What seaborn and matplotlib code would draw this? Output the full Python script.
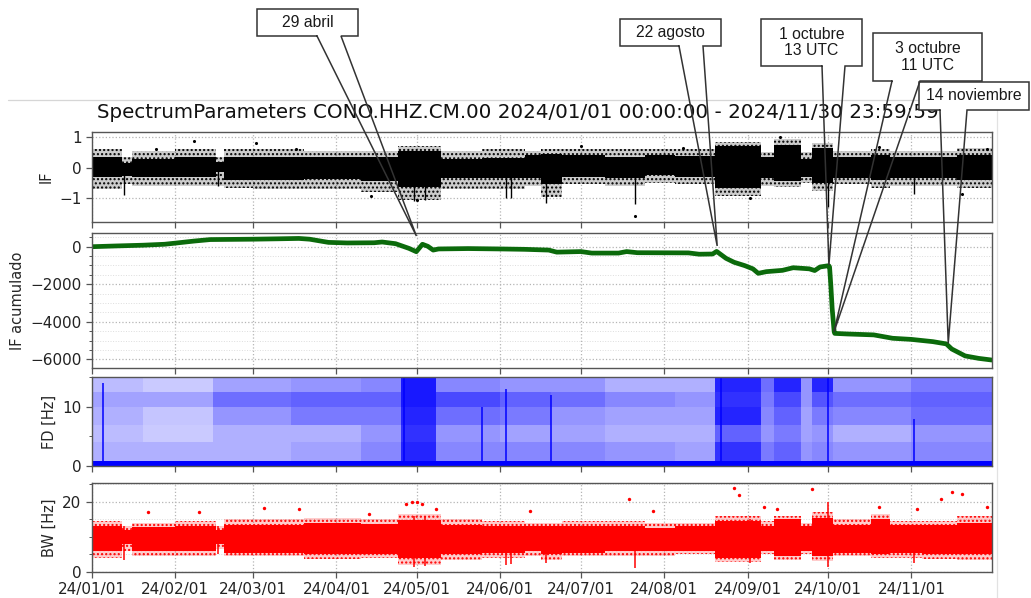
import numpy as np
import pandas as pd
import matplotlib
matplotlib.use("Agg")
import matplotlib.pyplot as plt
import matplotlib.dates as mdates
from matplotlib.ticker import MultipleLocator
from matplotlib.colors import LinearSegmentedColormap
from matplotlib.lines import Line2D
from matplotlib.patches import Rectangle
import seaborn as sns

# ------------------------------------------------------------------ data
title_text = "SpectrumParameters CONO.HHZ.CM.00 2024/01/01 00:00:00 - 2024/11/30 23:59:59"

# piecewise segments (edges) used for the IF and BW point clouds
seg_edges = ["2024-01-01", "2024-01-12", "2024-01-16", "2024-02-01", "2024-02-16",
             "2024-02-19", "2024-03-01", "2024-03-20", "2024-04-10", "2024-04-24",
             "2024-05-10", "2024-05-25", "2024-06-10", "2024-06-16", "2024-06-24",
             "2024-07-10", "2024-07-25", "2024-08-05", "2024-08-20", "2024-09-06",
             "2024-09-11", "2024-09-21", "2024-09-25", "2024-10-03", "2024-10-17",
             "2024-10-24", "2024-11-05", "2024-11-18", "2024-12-01"]

# IF cloud envelopes per segment
if_core_lo = [-0.32, -0.28, -0.30, -0.32, -0.15, -0.40, -0.40, -0.38, -0.42, -0.62,
              -0.33, -0.35, -0.35, -0.55, -0.30, -0.33, -0.25, -0.30, -0.65, -0.33,
              -0.45, -0.30, -0.50, -0.33, -0.40, -0.35, -0.35, -0.40]
if_core_hi = [0.36, 0.15, 0.30, 0.35, 0.20, 0.36, 0.36, 0.36, 0.36, 0.55,
              0.30, 0.32, 0.40, 0.45, 0.40, 0.36, 0.40, 0.38, 0.70, 0.36,
              0.75, 0.30, 0.65, 0.36, 0.42, 0.36, 0.36, 0.42]
if_halo_lo = [-0.70, -0.55, -0.60, -0.60, -0.60, -0.65, -0.70, -0.70, -0.80, -1.05,
              -0.70, -0.70, -0.60, -0.95, -0.55, -0.60, -0.50, -0.55, -0.92, -0.60,
              -0.62, -0.50, -0.75, -0.55, -0.65, -0.60, -0.60, -0.65]
if_halo_hi = [0.60, 0.35, 0.55, 0.60, 0.35, 0.60, 0.60, 0.55, 0.55, 0.72,
              0.55, 0.60, 0.55, 0.60, 0.60, 0.60, 0.60, 0.60, 0.85, 0.50,
              0.95, 0.50, 0.80, 0.55, 0.60, 0.55, 0.55, 0.65]
if_spike_dates = ["2024-01-13", "2024-02-17", "2024-04-30", "2024-05-04", "2024-06-03",
                  "2024-06-05", "2024-06-18", "2024-07-21", "2024-10-01", "2024-11-02"]
if_spike_lo = [-0.90, -0.60, -1.10, -1.05, -1.00, -1.00, -1.15, -1.20, -1.30, -0.85]
if_out_dates = ["2024-01-25", "2024-02-08", "2024-03-02", "2024-03-17", "2024-04-14",
                "2024-05-01", "2024-07-01", "2024-07-21", "2024-08-08", "2024-09-02",
                "2024-09-13", "2024-10-20", "2024-11-20", "2024-11-29"]
if_out_vals = [0.62, 0.88, 0.82, 0.60, -0.93, -1.07, 0.70, -1.58, 0.65, -1.00,
               1.00, 0.68, -0.85, 0.62]

# cumulative IF (green line)
cum_dates = ["2024-01-01", "2024-01-10", "2024-01-20", "2024-01-28", "2024-02-01",
             "2024-02-08", "2024-02-14", "2024-02-22", "2024-03-01", "2024-03-10",
             "2024-03-18", "2024-03-22", "2024-03-29", "2024-04-05", "2024-04-15",
             "2024-04-18", "2024-04-23", "2024-04-28", "2024-04-30 17:00", "2024-05-03",
             "2024-05-05", "2024-05-07", "2024-05-09", "2024-05-20", "2024-06-01",
             "2024-06-10", "2024-06-19", "2024-06-22", "2024-07-01", "2024-07-05",
             "2024-07-15", "2024-07-18", "2024-07-22", "2024-08-10", "2024-08-14",
             "2024-08-19", "2024-08-20 12:00", "2024-08-24", "2024-08-27", "2024-08-31",
             "2024-09-03", "2024-09-05", "2024-09-08", "2024-09-14", "2024-09-18",
             "2024-09-24", "2024-09-26", "2024-09-28", "2024-10-01 06:00", "2024-10-01 13:00",
             "2024-10-02 00:00", "2024-10-02 12:00", "2024-10-03 06:00", "2024-10-03 11:00",
             "2024-10-08", "2024-10-18", "2024-10-25", "2024-11-01", "2024-11-09",
             "2024-11-14", "2024-11-16", "2024-11-21", "2024-11-26", "2024-11-30 23:00"]
cum_vals = [0, 40, 80, 130, 190, 300, 380, 390, 400, 420,
            440, 400, 230, 200, 210, 250, 160, -90, -266, 130,
            20, -180, -120, -100, -120, -140, -180, -290, -260, -340,
            -340, -260, -320, -330, -400, -390, -250, -620, -830, -1010,
            -1180, -1420, -1330, -1260, -1120, -1180, -1270, -1080, -1010, -1080,
            -2040, -3280, -4530, -4620, -4650, -4700, -4880, -4940, -5060, -5180,
            -5450, -5820, -5950, -6040]

# FD density map (fraction of area covered by points)
fd_edges = ["2024-01-01", "2024-01-20", "2024-02-15", "2024-03-15", "2024-04-10",
            "2024-04-25", "2024-05-08", "2024-06-01", "2024-06-20", "2024-07-10",
            "2024-08-05", "2024-08-20", "2024-09-06", "2024-09-11", "2024-09-21",
            "2024-09-25", "2024-10-03", "2024-11-01", "2024-12-01"]
fd_bands = [0, 0.8, 4, 7, 10, 12.5, 15]
fd_d_00_08 = [1, 1, 1, 1, 1, 1, 1, 1, 1, 1, 1, 1, 1, 1, 1, 1, 1, 1]
fd_d_08_4 = [0.30, 0.30, 0.30, 0.35, 0.45, 0.85, 0.45, 0.45, 0.45, 0.40, 0.35, 0.80, 0.50, 0.60, 0.40, 0.45, 0.40, 0.45]
fd_d_4_7 = [0.25, 0.20, 0.30, 0.30, 0.40, 0.80, 0.40, 0.35, 0.35, 0.30, 0.30, 0.60, 0.40, 0.50, 0.35, 0.40, 0.30, 0.40]
fd_d_7_10 = [0.30, 0.22, 0.40, 0.50, 0.50, 0.85, 0.55, 0.50, 0.40, 0.35, 0.35, 0.85, 0.45, 0.60, 0.35, 0.50, 0.45, 0.55]
fd_d_10_125 = [0.35, 0.35, 0.55, 0.60, 0.60, 0.90, 0.70, 0.60, 0.55, 0.45, 0.40, 0.80, 0.50, 0.70, 0.40, 0.65, 0.55, 0.60]
fd_d_125_15 = [0.25, 0.20, 0.35, 0.40, 0.45, 0.90, 0.45, 0.40, 0.40, 0.30, 0.30, 0.85, 0.55, 0.85, 0.40, 0.85, 0.40, 0.50]
fd_line_dates = ["2024-01-05", "2024-04-26", "2024-05-25", "2024-06-03", "2024-06-20",
                 "2024-08-22", "2024-10-01", "2024-11-02"]
fd_line_top = [14, 15, 10, 13, 12, 15, 15, 8]

# BW cloud envelopes per segment
bw_core_lo = [6.0, 8.0, 6.0, 6.0, 8.0, 5.5, 5.5, 5.0, 5.0, 4.0,
              5.0, 5.5, 6.0, 5.0, 5.5, 6.0, 6.0, 6.0, 4.0, 6.0,
              4.5, 6.0, 4.5, 5.5, 5.0, 5.5, 5.0, 5.0]
bw_core_hi = [13.0, 12.0, 12.8, 13.0, 12.0, 13.5, 13.5, 14.0, 13.8, 14.8,
              13.5, 13.0, 13.0, 13.0, 13.0, 13.0, 12.5, 13.0, 14.5, 13.0,
              15.0, 13.0, 15.5, 13.5, 15.0, 13.5, 13.5, 14.0]
bw_halo_lo = [4.0, 6.0, 4.5, 4.5, 6.5, 4.5, 4.5, 3.8, 4.0, 2.0,
              3.5, 4.0, 4.5, 3.5, 4.5, 4.5, 4.5, 5.0, 2.8, 5.0,
              3.5, 5.0, 3.0, 4.5, 4.0, 4.0, 3.8, 3.5]
bw_halo_hi = [14.5, 13.0, 14.0, 14.5, 13.0, 15.0, 15.0, 15.5, 15.0, 16.5,
              15.0, 14.5, 14.0, 14.0, 14.5, 14.5, 14.0, 14.0, 16.0, 14.5,
              16.0, 14.0, 17.0, 15.0, 16.5, 14.5, 14.5, 16.0]
bw_spike_dates = ["2024-01-13", "2024-02-17", "2024-04-30", "2024-05-04", "2024-06-03",
                  "2024-06-05", "2024-06-18", "2024-07-21", "2024-09-02", "2024-10-01",
                  "2024-11-02"]
bw_spike_lo = [3.5, 5.0, 1.5, 1.8, 2.0, 2.2, 2.5, 1.0, 2.5, 1.3, 2.5]
bw_spike_hi = [13.0, 13.0, 16.0, 16.0, 12.0, 12.0, 12.0, 12.0, 15.0, 20.0, 13.0]
bw_out_dates = ["2024-01-22", "2024-02-10", "2024-03-05", "2024-03-18", "2024-04-13",
                "2024-04-27", "2024-04-29", "2024-05-01", "2024-05-03", "2024-05-08",
                "2024-06-12", "2024-07-19", "2024-07-28", "2024-08-27", "2024-08-29",
                "2024-09-07", "2024-09-12", "2024-09-25", "2024-10-20", "2024-11-03",
                "2024-11-12", "2024-11-16", "2024-11-20", "2024-11-29"]
bw_out_vals = [17.0, 17.0, 18.2, 18.0, 16.5, 19.5, 20.0, 20.0, 19.5, 18.0,
               17.5, 20.8, 17.3, 24.0, 22.1, 18.6, 18.1, 23.6, 18.5, 18.1,
               20.9, 22.9, 22.4, 18.6]

# annotations
callout_labels = ["29 abril", "22 agosto", "1 octubre\n13 UTC", "3 octubre\n11 UTC", "14 noviembre"]
callout_dates = ["2024-04-30 18:00", "2024-08-20 17:00", "2024-10-01 07:00",
                 "2024-10-03 05:00", "2024-11-14 17:00"]
callout_values = [570, 40, -975, -4530, -5150]

# ------------------------------------------------------------------ layout / style
W, H = 1031, 598
callout_boxes = [(257, 9, 358, 36), (620, 19, 721, 46), (761, 19, 862, 66),
                 (873, 33, 982, 81), (919, 82, 1029, 110)]
callout_legs = [(317, 341), (679, 703), (822, 845), (892, 920), (940, 967)]


def dt(values):
    return pd.to_datetime(values, format="mixed")


sns.set_style("ticks")
plt.rcParams["font.family"] = ["DejaVu Sans"]
plt.rcParams["axes.edgecolor"] = "#555555"
plt.rcParams["hatch.linewidth"] = 1.0

fig = plt.figure(figsize=(W / 100, H / 100), dpi=100)


def add_ax(x0, y0, x1, y1, sharex=None):
    return fig.add_axes([x0 / W, 1 - y1 / H, (x1 - x0) / W, (y1 - y0) / H], sharex=sharex)


ax1 = add_ax(92, 132, 992, 222)
ax2 = add_ax(92, 233.3, 992, 368.3, sharex=ax1)
ax3 = add_ax(92, 377.3, 992, 466, sharex=ax1)
ax4 = add_ax(92, 483, 992, 572, sharex=ax1)
axes = [ax1, ax2, ax3, ax4]

edges = dt(seg_edges)


def step(vals):
    return list(vals) + [vals[-1]]


def cloud(ax, clo, chi, hlo, hhi, color, halo_alpha):
    for lo, hi in ((hlo, clo), (chi, hhi)):
        ax.fill_between(edges, step(lo), step(hi), step="post", color=color, alpha=halo_alpha, lw=0)
        ax.fill_between(edges, step(lo), step(hi), step="post", facecolor="none",
                        edgecolor=color, hatch="....", lw=0)
    ax.fill_between(edges, step(clo), step(chi), step="post", color=color, lw=0)


# IF
cloud(ax1, if_core_lo, if_core_hi, if_halo_lo, if_halo_hi, "black", 0.2)
ax1.vlines(dt(if_spike_dates), if_spike_lo, 0, color="black", lw=1.0)
sns.scatterplot(x=dt(if_out_dates), y=if_out_vals, color="black", s=5,
                linewidth=0, ax=ax1, legend=False)
ax1.set_ylim(-1.78, 1.17)
ax1.set_yticks([-1, 0, 1])
ax1.set_ylabel("IF", fontsize=10.5)

# IF acumulado
sns.lineplot(x=dt(cum_dates), y=cum_vals, color="#0b6a0b", lw=3.4, ax=ax2)
ax2.set_ylim(-6480, 714)
ax2.set_yticks([-6000, -4000, -2000, 0])
ax2.yaxis.set_minor_locator(MultipleLocator(500))
ax2.set_ylabel("IF acumulado", fontsize=10.5)

# FD
fd_x = mdates.date2num(dt(fd_edges))
fd_matrix = np.array([fd_d_00_08, fd_d_08_4, fd_d_4_7, fd_d_7_10, fd_d_10_125, fd_d_125_15])
blue_map = LinearSegmentedColormap.from_list("wb", ["#ffffff", "#7a7aff", "#0000ff"])
ax3.pcolormesh(fd_x, fd_bands, fd_matrix, cmap=blue_map, vmin=0, vmax=1, shading="flat", zorder=1)
ax3.vlines(dt(fd_line_dates), 0, fd_line_top, color="#0000ff", lw=1.1, zorder=2)
ax3.set_ylim(0, 15)
ax3.set_yticks([0, 10])
ax3.yaxis.set_minor_locator(MultipleLocator(5))
ax3.set_ylabel("FD [Hz]", fontsize=10.5)

# BW
cloud(ax4, bw_core_lo, bw_core_hi, bw_halo_lo, bw_halo_hi, "#ff0000", 0.2)
ax4.vlines(dt(bw_spike_dates), bw_spike_lo, bw_spike_hi, color="#ff0000", lw=1.1)
sns.scatterplot(x=dt(bw_out_dates), y=bw_out_vals, color="#ff0000", s=6,
                linewidth=0, ax=ax4, legend=False)
ax4.set_ylim(0, 25.4)
ax4.set_yticks([0, 20])
ax4.yaxis.set_minor_locator(MultipleLocator(5))
ax4.set_ylabel("BW [Hz]", fontsize=10.5)

for ax in axes:
    ax.set_axisbelow(True)
    ax.grid(True, which="major", ls=":", color="#b5b5b5", lw=0.9)
    ax.grid(True, which="minor", axis="y", ls=":", color="#dddddd", lw=0.7)
    ax.tick_params(which="major", direction="out", length=4, width=0.9, color="#555555",
                   labelsize=11, labelcolor="#222222")
    ax.tick_params(which="minor", direction="out", length=2.5, width=0.7, color="#555555")
    for sp in ax.spines.values():
        sp.set_color("#555555")
        sp.set_linewidth(1.0)
        sp.set_visible(True)
    ax.set_xlabel("")

ax1.set_xlim(pd.Timestamp("2024-01-01"), pd.Timestamp("2024-11-30 23:59:59"))
ax4.xaxis.set_major_locator(mdates.MonthLocator())
ax4.xaxis.set_major_formatter(mdates.DateFormatter("%y/%m/%d"))
for ax in [ax1, ax2, ax3]:
    ax.tick_params(labelbottom=False)

fig.text(518 / W, 1 - 112 / H, title_text, ha="center", va="center", fontsize=14.3, color="#111111")

# light frame of the pasted chart
fig.add_artist(Line2D([8 / W, 997 / W], [1 - 100 / H, 1 - 100 / H], transform=fig.transFigure,
                      color="#d6d6d6", lw=0.9, zorder=5))
fig.add_artist(Line2D([997 / W, 997 / W], [1 - 100 / H, 0], transform=fig.transFigure,
                      color="#e2e2e2", lw=0.9, zorder=5))

# callouts
inv = fig.transFigure.inverted()
for lab, d, v, box, legs in zip(callout_labels, callout_dates, callout_values, callout_boxes, callout_legs):
    tip = inv.transform(ax2.transData.transform((mdates.date2num(pd.Timestamp(d)), v)))
    x0, y0, x1, y1 = box
    xa, xb = legs
    fig.add_artist(Rectangle((x0 / W, 1 - y1 / H), (x1 - x0) / W, (y1 - y0) / H,
                             transform=fig.transFigure, facecolor="white", edgecolor="none", zorder=20))
    px = [xa / W, x0 / W, x0 / W, x1 / W, x1 / W, xb / W, tip[0], xa / W]
    py = [1 - y1 / H, 1 - y1 / H, 1 - y0 / H, 1 - y0 / H, 1 - y1 / H, 1 - y1 / H, tip[1], 1 - y1 / H]
    fig.add_artist(Line2D(px, py, transform=fig.transFigure, color="#333333", lw=1.1, zorder=21,
                          solid_joinstyle="miter"))
    fig.text((x0 + x1) / 2 / W, 1 - (y0 + y1) / 2 / H, lab, ha="center", va="center",
             fontsize=11.3, family=["Liberation Sans", "DejaVu Sans"], color="#1a1a1a",
             linespacing=1.15, zorder=22)

fig.savefig("out.png", dpi=100)
